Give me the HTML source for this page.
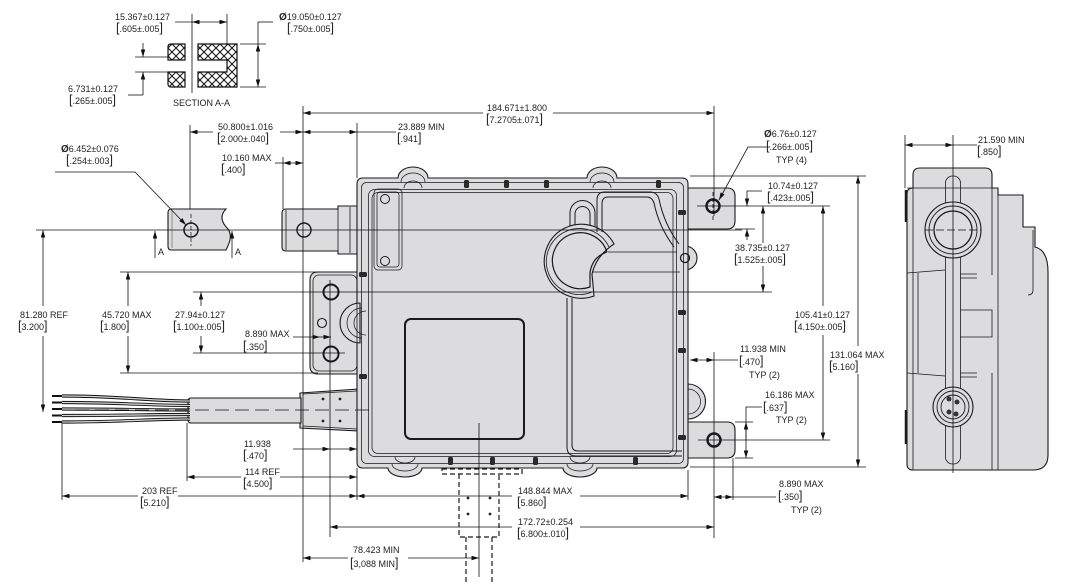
<!DOCTYPE html>
<html><head><meta charset="utf-8"><style>
html,body{margin:0;padding:0;background:#fff;width:1068px;height:585px;overflow:hidden}
svg{display:block}
text{font-family:"Liberation Sans",sans-serif;font-size:9px;fill:#222}
.b{font-size:12.5px}
.p{font-weight:bold;font-size:10px}
</style></head><body>
<svg width="1068" height="585" viewBox="0 0 1068 585" xmlns="http://www.w3.org/2000/svg">
<defs>
<marker id="m" viewBox="0 0 10 6" refX="10" refY="3" markerWidth="9" markerHeight="4.5" markerUnits="userSpaceOnUse" orient="auto-start-reverse"><path d="M0,0L10,3L0,6z" fill="#111"/></marker>
<pattern id="h" width="8" height="8" patternUnits="userSpaceOnUse"><path d="M-1,-1L9,9M9,-1L-1,9" stroke="#111" stroke-width="1"/></pattern>
</defs>

<!-- SECTION A-A -->
<g stroke="#111" stroke-width="1.2">
<path d="M171,44H185V60H168V47Q168,44 171,44Z" fill="url(#h)"/>
<path d="M168,72H185V87H171Q168,87 168,84Z" fill="url(#h)"/>
<path d="M198,44H237V87H198V72H227V60H198Z" fill="url(#h)"/>
</g>
<g stroke="#111" stroke-width="0.8" fill="none">
<line x1="192" y1="14" x2="192" y2="93"/>
<line x1="227" y1="14" x2="227" y2="44"/>
<line x1="175" y1="22" x2="192" y2="22"/>
<line x1="192" y1="22" x2="227" y2="22" marker-start="url(#m)" marker-end="url(#m)"/>
<line x1="258" y1="22" x2="273" y2="22"/>
<line x1="258" y1="22" x2="258" y2="44"/>
<line x1="258" y1="44" x2="258" y2="87" marker-start="url(#m)" marker-end="url(#m)"/>
<line x1="240" y1="44" x2="266" y2="44"/>
<line x1="240" y1="87" x2="266" y2="87"/>
<line x1="135" y1="57" x2="170" y2="57"/>
<line x1="135" y1="72" x2="170" y2="72"/>
<line x1="143" y1="43" x2="143" y2="57" marker-end="url(#m)"/>
<line x1="143" y1="95" x2="143" y2="72" marker-end="url(#m)"/>
<line x1="128" y1="95" x2="143" y2="95"/>
</g>
<text x="115" y="20">15.367±0.127</text>
<text x="116" y="32"><tspan class="b">[</tspan>.605±.005<tspan class="b">]</tspan></text>
<text x="279" y="20"><tspan class="p">Ø</tspan>19.050±0.127</text>
<text x="287" y="32"><tspan class="b">[</tspan>.750±.005<tspan class="b">]</tspan></text>
<text x="68" y="92">6.731±0.127</text>
<text x="69" y="104"><tspan class="b">[</tspan>.265±.005<tspan class="b">]</tspan></text>
<text x="173" y="106">SECTION A-A</text>

<!-- A-A tab -->
<g fill="#dcdcde" stroke="#1a1a1a" stroke-width="1.1">
<path d="M171,209H226C219,216 222,223 228,229C233,236 229,244 226,250H171Q168,250 168,246V213Q168,209 171,209Z"/>
<circle cx="191" cy="230" r="7" fill="none" stroke-width="1.5"/>
</g>
<line x1="172" y1="211" x2="172" y2="248" stroke="#555" stroke-width="0.6"/>
<line x1="191" y1="214" x2="191" y2="246" stroke="#111" stroke-width="0.7" stroke-dasharray="4,2"/>

<!-- MAIN BODY -->
<g fill="#dcdcde" stroke="#1a1a1a" stroke-width="1.1">
<path d="M286,209H338V206H360V254H338V251H286Q282,251 282,247V213Q282,209 286,209Z"/>
<path d="M318,272H360V374H318Q310,374 310,366V280Q310,272 318,272Z"/>
<path d="M300,393L360,389V431L300,428Z"/>
<path d="M191,398H301V423H191Q188,423 188,420V401Q188,398 191,398Z"/>
<path d="M680,188H727Q735,188 735,196V221Q735,229 727,229H680Z"/>
<path d="M680,422H727Q735,422 735,430V450Q735,458 727,458H680Z"/>
<path d="M688,384A17,17 0 0 1 688,419Z"/>
<circle cx="685" cy="258" r="12"/>
<path d="M363,178H398A15,11 0 0 1 428,178H587A15,11 0 0 1 617,178H682Q688,178 688,184V462Q688,468 682,468H597A17,9 0 0 1 563,468H422A17,9 0 0 1 388,468H363Q357,468 357,462V184Q357,178 363,178Z"/>
<path d="M360,303A20,20 0 0 0 360,343Z"/>
</g>
<!-- shaft details -->
<g fill="none" stroke="#1a1a1a" stroke-width="0.8">
<line x1="286" y1="210" x2="286" y2="250"/>
<line x1="338" y1="207" x2="338" y2="253"/>
<line x1="350" y1="207" x2="350" y2="253"/>
<rect x="313" y="275" width="44" height="96" rx="6"/>
<path d="M303,394L357,391M303,426L357,429"/>
</g>
<!-- rails -->
<g fill="none" stroke="#1a1a1a" stroke-width="0.75">
<rect x="361.5" y="182.5" width="322" height="281" rx="5"/>
<rect x="368.5" y="189.5" width="308" height="267" rx="6"/>
<rect x="372" y="192.5" width="301" height="261" rx="6"/>
<path d="M401,182A12,9 0 0 1 425,182M404,188A9,7 0 0 1 422,188"/>
<path d="M590,182A12,9 0 0 1 614,182M593,188A9,7 0 0 1 611,188"/>
<path d="M392,464A13,7 0 0 0 418,464M395,457A10,6 0 0 0 415,457"/>
<path d="M567,464A13,7 0 0 0 593,464M570,457A10,6 0 0 0 590,457"/>
<path d="M688,389A12,12 0 0 1 688,414"/>
<path d="M362,308A15,15 0 0 0 362,338M366,311A12,12 0 0 0 366,335"/>
<rect x="374" y="189" width="28" height="81" rx="4"/>
<rect x="377" y="192" width="22" height="75" rx="3"/>
</g>
<!-- holes -->
<g fill="none" stroke="#1a1a1a">
<circle cx="385" cy="199" r="4.5" stroke-width="1"/>
<circle cx="385" cy="261" r="4.5" stroke-width="1"/>
<circle cx="304" cy="230" r="7" stroke-width="1.4"/>
<circle cx="331" cy="292" r="7.5" stroke-width="2"/>
<circle cx="331" cy="354" r="7.5" stroke-width="2"/>
<circle cx="322" cy="323" r="4.5" stroke-width="1.1"/>
<circle cx="713" cy="206" r="6.5" stroke-width="2.4"/>
<circle cx="714" cy="440" r="6.5" stroke-width="2.4"/>
<circle cx="685" cy="258" r="4.5" stroke-width="1.3"/>
</g>
<!-- screw bosses -->
<g fill="#2a2a2a">
<rect x="464" y="180" width="5" height="8" rx="1.5"/><rect x="504" y="180" width="5" height="8" rx="1.5"/>
<rect x="544" y="180" width="5" height="8" rx="1.5"/><rect x="656" y="180" width="5" height="8" rx="1.5"/>
<rect x="448" y="457" width="5" height="8" rx="1.5"/><rect x="490" y="457" width="5" height="8" rx="1.5"/>
<rect x="533" y="457" width="5" height="8" rx="1.5"/><rect x="633" y="457" width="5" height="8" rx="1.5"/>
<rect x="359" y="272" width="8" height="5" rx="1.5"/><rect x="359" y="374" width="8" height="5" rx="1.5"/>
<rect x="678" y="210" width="8" height="5" rx="1.5"/><rect x="678" y="310" width="8" height="5" rx="1.5"/>
<rect x="678" y="348" width="8" height="5" rx="1.5"/><rect x="678" y="435" width="8" height="5" rx="1.5"/>
</g>
<!-- right upper features -->
<g fill="#dcdcde" stroke="#1a1a1a" stroke-width="1">
<path d="M570,228V213A12.5,12.5 0 0 1 595,213V228"/>
<path d="M575,228V214A7.5,7.5 0 0 1 590,214V228" fill="none"/>
<path d="M614,244A37,37 0 1 0 594,296L592,274Q596,256 614,244Z" stroke-width="1.1"/>
<path d="M609,247A33,33 0 1 0 592,292" fill="none" stroke-width="0.8"/>
<path d="M607,252A28,28 0 1 0 590,287L590,273Q592,257 607,252" fill="none" stroke-width="1.2"/>
</g>
<g fill="none" stroke="#1a1a1a" stroke-width="1">
<path d="M597,232V200Q597,192 605,192H650Q657,192 659,199Q664,224 679,244"/>
<path d="M602,232V204Q602,197 608,197H647Q652,197 654,203Q659,227 674,247"/>
<line x1="608" y1="252" x2="677" y2="252" stroke-width="0.8"/>
<line x1="592" y1="272" x2="680" y2="272" stroke-width="0.8"/>
<path d="M567,298V447Q567,456 576,456H682"/>
<path d="M572,298V445Q572,451 578,451H682"/>
<rect x="405" y="319" width="119" height="120" rx="6" stroke-width="2"/>
</g>
<!-- cable boot dots -->
<g fill="#222"><circle cx="323" cy="399" r="1.4"/><circle cx="340" cy="399" r="1.4"/><circle cx="323" cy="421" r="1.4"/><circle cx="340" cy="421" r="1.4"/>
<circle cx="468" cy="498" r="1.4"/><circle cx="490" cy="498" r="1.4"/><circle cx="468" cy="514" r="1.4"/><circle cx="490" cy="514" r="1.4"/></g>
<!-- wires -->
<g fill="none">
<path d="M62,396C120,396 150,401 190,401" stroke="#111" stroke-width="3.2"/>
<path d="M62,402.5C120,402.5 150,405.5 190,405.5" stroke="#111" stroke-width="3.2"/>
<path d="M62,409C120,409 150,410 190,410" stroke="#111" stroke-width="3.2"/>
<path d="M62,415.5C120,415.5 150,414.5 190,414.5" stroke="#111" stroke-width="3.2"/>
<path d="M62,422C120,422 150,419 190,419" stroke="#111" stroke-width="3.2"/>
<path d="M62,396C120,396 150,401 190,401" stroke="#d4d4d6" stroke-width="1.3"/>
<path d="M62,402.5C120,402.5 150,405.5 190,405.5" stroke="#d4d4d6" stroke-width="1.3"/>
<path d="M62,409C120,409 150,410 190,410" stroke="#d4d4d6" stroke-width="1.3"/>
<path d="M62,415.5C120,415.5 150,414.5 190,414.5" stroke="#d4d4d6" stroke-width="1.3"/>
<path d="M62,422C120,422 150,419 190,419" stroke="#d4d4d6" stroke-width="1.3"/>
</g>
<g fill="#111"><rect x="52" y="395" width="10" height="2"/><rect x="52" y="401.5" width="10" height="2"/><rect x="52" y="408" width="10" height="2"/><rect x="52" y="414.5" width="10" height="2"/><rect x="52" y="421" width="10" height="2"/></g>
<!-- dashed connector below -->
<g fill="none" stroke="#1a1a1a" stroke-width="1.2" stroke-dasharray="5,3">
<path d="M442,469H522V474H442Z"/>
<path d="M459,474V537H499V474"/>
<path d="M466,537V585M492,537V585"/>
</g>

<!-- DIMENSION LINES -->
<g stroke="#111" stroke-width="0.8" fill="none">
<line x1="303" y1="113" x2="483" y2="113" marker-start="url(#m)"/>
<line x1="553" y1="113" x2="714" y2="113" marker-end="url(#m)"/>
<line x1="303" y1="106" x2="303" y2="562"/>
<line x1="714" y1="106" x2="714" y2="216"/>
<line x1="190" y1="125" x2="190" y2="209"/>
<line x1="190" y1="132" x2="213" y2="132" marker-start="url(#m)"/>
<line x1="280" y1="132" x2="303" y2="132" marker-end="url(#m)"/>
<line x1="303" y1="132" x2="357" y2="132" marker-start="url(#m)" marker-end="url(#m)"/>
<line x1="357" y1="132" x2="396" y2="132"/>
<line x1="357" y1="123" x2="357" y2="178"/>
<line x1="275" y1="163" x2="283" y2="163"/>
<line x1="283" y1="163" x2="303" y2="163" marker-start="url(#m)" marker-end="url(#m)"/>
<line x1="283" y1="157" x2="283" y2="209"/>
<polyline points="55,172 135,172 186,225" marker-end="url(#m)"/>
<line x1="155" y1="258" x2="155" y2="231" marker-end="url(#m)"/>
<line x1="232" y1="258" x2="232" y2="231" marker-end="url(#m)"/>
<line x1="36" y1="230" x2="742" y2="230"/>
<line x1="43" y1="230" x2="43" y2="306" marker-start="url(#m)"/>
<line x1="43" y1="336" x2="43" y2="412" marker-end="url(#m)"/>
<line x1="120" y1="272" x2="318" y2="272"/>
<line x1="120" y1="373" x2="318" y2="373"/>
<line x1="128" y1="272" x2="128" y2="306" marker-start="url(#m)"/>
<line x1="128" y1="336" x2="128" y2="373" marker-end="url(#m)"/>
<line x1="193" y1="292" x2="772" y2="292"/>
<line x1="193" y1="353" x2="345" y2="353"/>
<line x1="201" y1="292" x2="201" y2="306" marker-start="url(#m)"/>
<line x1="201" y1="336" x2="201" y2="353" marker-end="url(#m)"/>
<line x1="293" y1="337" x2="320" y2="337" marker-end="url(#m)"/>
<line x1="320" y1="337" x2="331" y2="337" marker-end="url(#m)"/>
<line x1="293" y1="449" x2="330" y2="449" marker-end="url(#m)"/>
<line x1="330" y1="449" x2="357" y2="449" marker-end="url(#m)"/>
<line x1="75" y1="410" x2="375" y2="410" stroke-dasharray="14,6"/>
<line x1="62" y1="423" x2="62" y2="500"/>
<line x1="187" y1="423" x2="187" y2="481"/>
<line x1="187" y1="477" x2="241" y2="477" marker-start="url(#m)"/>
<line x1="280" y1="477" x2="357" y2="477" marker-end="url(#m)"/>
<line x1="62" y1="496" x2="138" y2="496" marker-start="url(#m)"/>
<line x1="178" y1="496" x2="357" y2="496" marker-end="url(#m)"/>
<line x1="357" y1="496" x2="512" y2="496" marker-start="url(#m)"/>
<line x1="580" y1="496" x2="688" y2="496" marker-end="url(#m)"/>
<line x1="357" y1="468" x2="357" y2="500"/>
<line x1="330" y1="280" x2="330" y2="537"/>
<line x1="330" y1="527" x2="512" y2="527" marker-start="url(#m)"/>
<line x1="580" y1="527" x2="714" y2="527" marker-end="url(#m)"/>
<line x1="303" y1="558" x2="348" y2="558" marker-start="url(#m)"/>
<line x1="408" y1="558" x2="479" y2="558" marker-end="url(#m)"/>
<line x1="479" y1="423" x2="479" y2="577"/>
<line x1="688" y1="470" x2="688" y2="500"/>
<line x1="733" y1="458" x2="733" y2="500"/>
<line x1="714" y1="352" x2="714" y2="538"/>
<line x1="714" y1="497" x2="733" y2="497" marker-start="url(#m)" marker-end="url(#m)"/>
<line x1="733" y1="497" x2="776" y2="497"/>
<line x1="690" y1="176" x2="866" y2="176"/>
<line x1="697" y1="206" x2="830" y2="206"/>
<line x1="735" y1="229" x2="755" y2="229"/>
<polyline points="770,147 748,147 719,200" marker-end="url(#m)"/>
<polyline points="762,191 747,191 747,206" marker-end="url(#m)"/>
<line x1="747" y1="240" x2="747" y2="229" marker-end="url(#m)"/>
<line x1="763" y1="206" x2="763" y2="243" marker-start="url(#m)"/>
<line x1="763" y1="266" x2="763" y2="292" marker-end="url(#m)"/>
<line x1="823" y1="206" x2="823" y2="306" marker-start="url(#m)"/>
<line x1="823" y1="335" x2="823" y2="440" marker-end="url(#m)"/>
<line x1="858" y1="176" x2="858" y2="346" marker-start="url(#m)"/>
<line x1="858" y1="374" x2="858" y2="467" marker-end="url(#m)"/>
<line x1="690" y1="467" x2="866" y2="467"/>
<line x1="698" y1="440" x2="830" y2="440"/>
<line x1="690" y1="360" x2="714" y2="360" marker-start="url(#m)" marker-end="url(#m)"/>
<line x1="714" y1="360" x2="738" y2="360"/>
<polyline points="762,407 746,407 746,440"/>
<line x1="746" y1="440" x2="746" y2="422" marker-end="url(#m)"/>
<line x1="746" y1="440" x2="746" y2="458" marker-end="url(#m)"/>
<line x1="735" y1="422" x2="753" y2="422"/>
<line x1="735" y1="458" x2="753" y2="458"/>
<line x1="713" y1="192" x2="713" y2="222" stroke-dasharray="4,2"/>
</g>

<!-- TEXTS -->
<text x="487" y="111">184.671±1.800</text>
<text x="486" y="123"><tspan class="b">[</tspan>7.2705±.071<tspan class="b">]</tspan></text>
<text x="218" y="130">50.800±1.016</text>
<text x="217" y="142"><tspan class="b">[</tspan>2.000±.040<tspan class="b">]</tspan></text>
<text x="398" y="130">23.889 MIN</text>
<text x="397" y="142"><tspan class="b">[</tspan>.941<tspan class="b">]</tspan></text>
<text x="222" y="161">10.160 MAX</text>
<text x="221" y="173"><tspan class="b">[</tspan>.400<tspan class="b">]</tspan></text>
<text x="61" y="152"><tspan class="p">Ø</tspan>6.452±0.076</text>
<text x="66" y="164"><tspan class="b">[</tspan>.254±.003<tspan class="b">]</tspan></text>
<text x="158" y="255">A</text>
<text x="235" y="255">A</text>
<text x="20" y="318">81.280 REF</text>
<text x="18" y="330"><tspan class="b">[</tspan>3.200<tspan class="b">]</tspan></text>
<text x="102" y="318">45.720 MAX</text>
<text x="100" y="330"><tspan class="b">[</tspan>1.800<tspan class="b">]</tspan></text>
<text x="175" y="318">27.94±0.127</text>
<text x="173" y="330"><tspan class="b">[</tspan>1.100±.005<tspan class="b">]</tspan></text>
<text x="245" y="337">8.890 MAX</text>
<text x="243" y="350"><tspan class="b">[</tspan>.350<tspan class="b">]</tspan></text>
<text x="244" y="447">11.938</text>
<text x="243" y="459"><tspan class="b">[</tspan>.470<tspan class="b">]</tspan></text>
<text x="245" y="475">114 REF</text>
<text x="243" y="487"><tspan class="b">[</tspan>4.500<tspan class="b">]</tspan></text>
<text x="142" y="494">203 REF</text>
<text x="140" y="506"><tspan class="b">[</tspan>5.210<tspan class="b">]</tspan></text>
<text x="518" y="494">148.844 MAX</text>
<text x="517" y="506"><tspan class="b">[</tspan>5.860<tspan class="b">]</tspan></text>
<text x="518" y="525">172.72±0.254</text>
<text x="517" y="537"><tspan class="b">[</tspan>6.800±.010<tspan class="b">]</tspan></text>
<text x="353" y="553">78.423 MIN</text>
<text x="350" y="567"><tspan class="b">[</tspan>3,088 MIN<tspan class="b">]</tspan></text>
<text x="764" y="137"><tspan class="p">Ø</tspan>6.76±0.127</text>
<text x="766" y="150"><tspan class="b">[</tspan>.266±.005<tspan class="b">]</tspan></text>
<text x="776" y="163">TYP (4)</text>
<text x="768" y="189">10.74±0.127</text>
<text x="767" y="201"><tspan class="b">[</tspan>.423±.005<tspan class="b">]</tspan></text>
<text x="735" y="251">38.735±0.127</text>
<text x="734" y="263"><tspan class="b">[</tspan>1.525±.005<tspan class="b">]</tspan></text>
<text x="795" y="318">105.41±0.127</text>
<text x="794" y="330"><tspan class="b">[</tspan>4.150±.005<tspan class="b">]</tspan></text>
<text x="830" y="358">131.064 MAX</text>
<text x="829" y="370"><tspan class="b">[</tspan>5.160<tspan class="b">]</tspan></text>
<text x="740" y="352">11.938 MIN</text>
<text x="739" y="365"><tspan class="b">[</tspan>.470<tspan class="b">]</tspan></text>
<text x="749" y="378">TYP (2)</text>
<text x="765" y="398">16.186 MAX</text>
<text x="763" y="411"><tspan class="b">[</tspan>.637<tspan class="b">]</tspan></text>
<text x="776" y="423">TYP (2)</text>
<text x="779" y="487">8.890  MAX</text>
<text x="778" y="500"><tspan class="b">[</tspan>.350<tspan class="b">]</tspan></text>
<text x="791" y="513">TYP (2)</text>

<!-- SIDE VIEW -->
<g fill="#dcdcde" stroke="#1a1a1a" stroke-width="1.1">
<path d="M913,175Q913,168 920,168H985Q992,168 992,175V188H998V195H1023V227H1035V247Q1048,250 1048,272V455Q1048,470 1033,470H913Q907,470 907,464V194Q907,188 913,188Z"/>
</g>
<g fill="none" stroke="#1a1a1a" stroke-width="0.8">
<line x1="907" y1="188" x2="998" y2="188"/>
<line x1="998" y1="195" x2="998" y2="470"/>
<path d="M1033,230V290Q1033,295 1028,295"/>
<rect x="945.5" y="176" width="15" height="288" rx="7"/>
<polyline points="907,273 945,270"/>
<polyline points="907,373 945,376"/>
<line x1="918" y1="273" x2="918" y2="373"/>
<line x1="960" y1="274" x2="977" y2="274"/><line x1="960" y1="278" x2="977" y2="278"/>
<line x1="960" y1="373" x2="977" y2="373"/><line x1="960" y1="377" x2="977" y2="377"/>
<path d="M960,310H992V337H960"/>
<line x1="992" y1="188" x2="992" y2="275"/>
<line x1="992" y1="373" x2="992" y2="470"/>
<line x1="913" y1="188" x2="913" y2="470"/>
</g>
<g stroke="#1a1a1a" stroke-width="2.5"><line x1="906" y1="190" x2="906" y2="222"/><line x1="906" y1="410" x2="906" y2="444"/></g>
<g stroke="#1a1a1a" fill="#dcdcde">
<circle cx="953" cy="230" r="28" stroke-width="1.1"/>
<circle cx="953" cy="230" r="24" fill="none" stroke-width="0.9"/>
<circle cx="953" cy="230" r="19" fill="none" stroke-width="1.3"/>
<circle cx="953" cy="407" r="20" stroke-width="1.1"/>
<circle cx="953" cy="407" r="16" fill="none" stroke-width="0.9"/>
<circle cx="953" cy="407" r="12" fill="none" stroke-width="0.9"/>
</g>
<g fill="#333"><circle cx="949" cy="399" r="2.5"/><circle cx="957" cy="402" r="2.5"/><circle cx="949" cy="412" r="2.5"/><circle cx="956" cy="414" r="2.5"/></g>
<g stroke="#111" stroke-width="0.8" fill="none">
<line x1="925" y1="230" x2="981" y2="230" stroke-dasharray="8,3"/>
<line x1="953" y1="135" x2="953" y2="473"/>
<line x1="905" y1="135" x2="905" y2="188"/>
<line x1="905" y1="145" x2="953" y2="145" marker-start="url(#m)" marker-end="url(#m)"/>
<line x1="953" y1="145" x2="977" y2="145"/>
</g>
<text x="978" y="143">21.590 MIN</text>
<text x="977" y="155"><tspan class="b">[</tspan>.850<tspan class="b">]</tspan></text>
</svg>
</body></html>
